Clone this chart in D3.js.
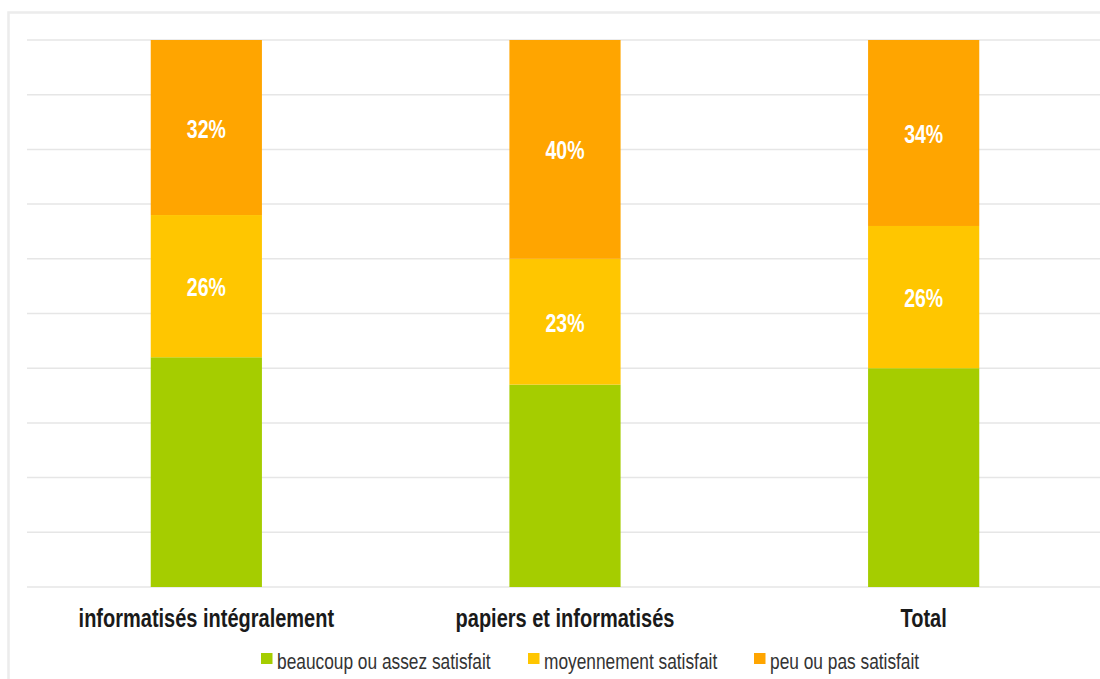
<!DOCTYPE html>
<html>
<head>
<meta charset="utf-8">
<script src="https://cdn.jsdelivr.net/npm/d3@7"></script>
<style>
  html, body { margin: 0; padding: 0; background: #fff; }
  svg { display: block; }
</style>
</head>
<body>
<svg id="chart" width="1100" height="679"></svg>
<script>
// Satisfaction by type of records (percent, stacked to 100)
const categories = ["informatisés intégralement", "papiers et informatisés", "Total"];
const seriesNames = ["beaucoup ou assez satisfait", "moyennement satisfait", "peu ou pas satisfait"];
const satisfied = [42, 37, 40];
const medium = [26, 23, 26];
const unsatisfied = [32, 40, 34];
const seriesColors = ["#a5cd00", "#ffc600", "#ffa500"];
const yTicks = [0, 10, 20, 30, 40, 50, 60, 70, 80, 90, 100];

const FONT = "Liberation Sans, Arial, sans-serif";
const NARROW = 0.78; // horizontal squeeze for a condensed look

const svg = d3.select("#chart");
const W = 1100, H = 679;
const margin = { left: 27, right: -3, top: 40, bottom: 92 };

// outer frame
svg.append("path")
  .attr("d", `M8.5,${H} V12.5 H${W}`)
  .attr("fill", "none")
  .attr("stroke", "#ececec")
  .attr("stroke-width", 2.5);

const x = d3.scaleBand()
  .domain(categories)
  .range([margin.left, W - margin.right])
  .paddingInner(0.69)
  .paddingOuter(0.345);

const y = d3.scaleLinear()
  .domain([0, 100])
  .range([H - margin.bottom, margin.top]);

// horizontal gridlines
svg.append("g")
  .selectAll("line")
  .data(yTicks)
  .join("line")
  .attr("x1", margin.left)
  .attr("x2", W - margin.right)
  .attr("y1", d => y(d))
  .attr("y2", d => y(d))
  .attr("stroke", "#e6e6e6")
  .attr("stroke-width", 1.5);

const rows = categories.map((c, i) => ({
  cat: c,
  [seriesNames[0]]: satisfied[i],
  [seriesNames[1]]: medium[i],
  [seriesNames[2]]: unsatisfied[i]
}));

const layers = d3.stack().keys(seriesNames)(rows);

const layerG = svg.append("g")
  .selectAll("g")
  .data(layers)
  .join("g")
  .attr("fill", (d, i) => seriesColors[i]);

layerG.selectAll("rect")
  .data(d => d)
  .join("rect")
  .attr("x", d => x(d.data.cat))
  .attr("width", x.bandwidth())
  .attr("y", d => y(d[1]))
  .attr("height", d => y(d[0]) - y(d[1]));

// value labels on the upper two segments
svg.append("g")
  .selectAll("g")
  .data(layers.slice(1))
  .join("g")
  .selectAll("text")
  .data(d => d)
  .join("text")
  .attr("transform", d =>
    `translate(${x(d.data.cat) + x.bandwidth() / 2},${(y(d[0]) + y(d[1])) / 2 + 10}) scale(${NARROW},1)`)
  .attr("text-anchor", "middle")
  .attr("font-family", FONT)
  .attr("font-weight", "bold")
  .attr("font-size", 25)
  .attr("fill", "#fff")
  .text(d => (d[1] - d[0]) + "%");

// category axis labels
const xAxis = d3.axisBottom(x).tickSize(0).tickPadding(0);
const axisG = svg.append("g")
  .attr("transform", `translate(0,${H - margin.bottom + 40})`)
  .call(xAxis);
axisG.select(".domain").remove();
axisG.selectAll("text")
  .attr("font-family", FONT)
  .attr("font-weight", "bold")
  .attr("font-size", 25)
  .attr("fill", "#1a1a1a")
  .attr("dy", "0")
  .attr("y", 0)
  .attr("transform", `scale(${0.8},1)`);

// legend
const legendX = [261, 528, 754];
const leg = svg.append("g")
  .selectAll("g")
  .data(seriesNames)
  .join("g")
  .attr("transform", (d, i) => `translate(${legendX[i]},653)`);
leg.append("rect")
  .attr("width", 11.5)
  .attr("height", 11)
  .attr("fill", (d, i) => seriesColors[i]);
leg.append("text")
  .attr("transform", `translate(16,16) scale(0.77,1)`)
  .attr("font-family", FONT)
  .attr("font-size", 22.5)
  .attr("fill", "#333")
  .text(d => d);
</script>
</body>
</html>
